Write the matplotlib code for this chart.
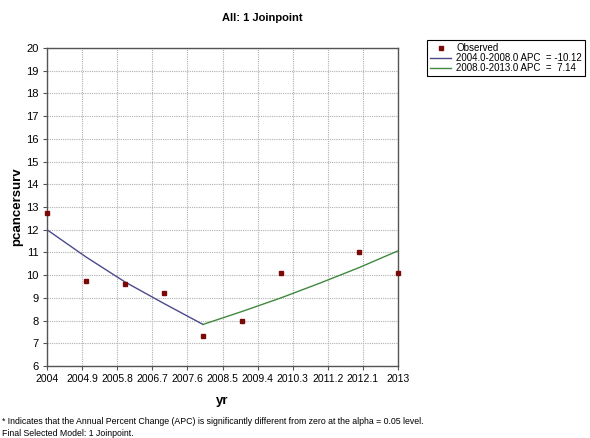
import numpy as np
import matplotlib.pyplot as plt

plt.rcParams['font.family'] = ['Liberation Sans', 'DejaVu Sans']

# observed values (no 2011 point)
obs_yr = [2004, 2005, 2006, 2007, 2008, 2009, 2010, 2012, 2013]
obs_val = [12.75, 9.75, 9.6, 9.2, 7.3, 8.0, 10.1, 11.0, 10.1]

# fitted joinpoint segments
seg1_yr = [2004, 2005, 2006, 2007, 2008]
seg1_val = [12.0, 10.8, 9.7, 8.75, 7.83]
seg2_yr = [2008, 2009, 2010, 2011, 2012, 2013]
seg2_val = [7.83, 8.4, 9.0, 9.65, 10.33, 11.07]

xticks = [2004, 2004.9, 2005.8, 2006.7, 2007.6, 2008.5, 2009.4, 2010.3, 2011.2, 2012.1, 2013]
xticklabels = ['2004', '2004.9', '2005.8', '2006.7', '2007.6', '2008.5', '2009.4',
               '2010.3', '2011.2', '2012.1', '2013']

fig = plt.figure(figsize=(5.9, 4.38), dpi=100)
ax = fig.add_axes([47/590, 72/438, 351/590, 318/438])

ax.plot(obs_yr, obs_val, 's', color='#7a0a0a', markersize=3.5, label='Observed',
        zorder=4, clip_on=False)
ax.plot(seg1_yr, seg1_val, color='#4a4a8c', lw=1, label='2004.0-2008.0 APC  = -10.12', zorder=3)
ax.plot(seg2_yr, seg2_val, color='#3f8a3f', lw=1, label='2008.0-2013.0 APC  =  7.14', zorder=3)

ax.set_xlim(2004, 2013)
ax.set_ylim(6, 20)
ax.set_xticks(xticks)
ax.set_xticklabels(xticklabels)
ax.set_yticks(range(6, 21))
ax.tick_params(labelsize=7.5, length=3, color='#555555', pad=3)
ax.tick_params(axis='y', labelsize=8)
ax.grid(True, ls=(0, (1, 1)), color='#b0b0b0', lw=0.8)
for s in ax.spines.values():
    s.set_color('#555555')
    s.set_linewidth(1)

ax.set_xlabel('yr', fontsize=9.5, fontweight='bold', labelpad=8)
ax.set_ylabel('pcancersurv', fontsize=9.5, fontweight='bold', labelpad=2)
fig.text(262/590, 1 - 18/438, 'All: 1 Joinpoint', ha='center', va='center',
         fontsize=8, fontweight='bold')

leg = fig.legend(loc='upper left', bbox_to_anchor=(427/590, 1 - 40/438), fontsize=7,
                 frameon=True, fancybox=False, edgecolor='black', framealpha=1,
                 handlelength=2.2, handletextpad=0.5, borderpad=0.3, labelspacing=0.0,
                 borderaxespad=0)
leg.get_frame().set_linewidth(0.8)

fig.text(2/590, 1 - 422/438, '* Indicates that the Annual Percent Change (APC) is significantly '
         'different from zero at the alpha = 0.05 level.', fontsize=6.3, va='center')
fig.text(2/590, 1 - 433/438, 'Final Selected Model: 1 Joinpoint.', fontsize=6.3, va='center')

fig.savefig('out.png', dpi=100)
